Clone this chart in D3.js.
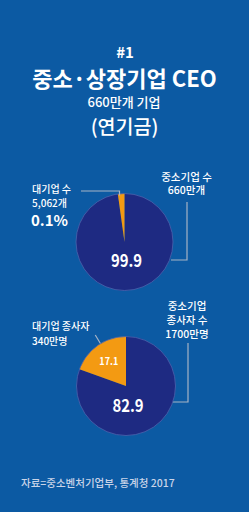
<!DOCTYPE html>
<html>
<head>
<meta charset="utf-8">
<script src="https://cdn.jsdelivr.net/npm/d3@7"></script>
<style>
  html, body { margin: 0; padding: 0; background: #0c5aa3; }
  svg { display: block; }
  text { font-family: "Noto Sans CJK KR", "Noto Sans", sans-serif; fill: #fff; }
</style>
</head>
<body>
<svg id="chart"></svg>
<script>
// title lines
var titleLines = ["#1", "중소·상장기업 CEO", "660만개 기업", "(연기금)"];

// chart 1: number of firms (large / SME)
var firmNames = ["대기업", "중소기업"];
var firmShare = [0.1, 99.9];
// the infographic draws the 0.1% sliver much wider than it really is
var firmDrawn = [2.2, 97.8];
var firmLeftLabel = ["대기업 수", "5,062개", "0.1%"];
var firmRightLabel = ["중소기업 수", "660만개"];

// chart 2: employees (large / SME)
var workerNames = ["대기업", "중소기업"];
var workerShare = [17.1, 82.9];
var workerDrawn = [19.5, 80.5];
var workerLeftLabel = ["대기업 종사자", "340만명"];
var workerRightLabel = ["중소기업", "종사자 수", "1700만명"];

var source = "자료=중소벤처기업부, 통계청 2017";

var width = 249, height = 512;
var navy = "#1e2a82", orange = "#f39a12", lineCol = "#a6b3c6";

var svg = d3.select("#chart")
    .attr("width", width)
    .attr("height", height);

svg.append("rect")
    .attr("width", width)
    .attr("height", height)
    .attr("fill", "#0c5aa3");

// title block
var title = svg.append("g").attr("text-anchor", "middle");
title.append("text").attr("x", 125).attr("y", 58)
    .attr("font-size", 15).attr("font-weight", 700).text(titleLines[0]);
title.append("text").attr("x", 124.5).attr("y", 87)
    .attr("font-size", 22).attr("font-weight", 700).text(titleLines[1]);
title.append("text").attr("x", 124).attr("y", 106.5)
    .attr("font-size", 13).attr("font-weight", 500).text(titleLines[2]);
title.append("text").attr("x", 124.5).attr("y", 133.5)
    .attr("font-size", 19.5).attr("font-weight", 500).text(titleLines[3]);

var pie = d3.pie().sort(null);   // small slice last -> sits just left of 12 o'clock

function drawPie(cx, cy, r, drawn, shares) {
    // reorder so the big (navy) slice starts at 12 o'clock clockwise
    var vals = [drawn[1], drawn[0]];
    var arcs = pie(vals);
    var arc = d3.arc().innerRadius(0).outerRadius(r);
    var g = svg.append("g").attr("transform", "translate(" + cx + "," + cy + ")");

    g.selectAll("path")
        .data(arcs)
        .enter()
        .append("path")
        .attr("d", arc)
        .attr("fill", function(d, i) { return i == 0 ? navy : orange; });

    g.append("circle")
        .attr("r", r)
        .attr("fill", "none")
        .attr("stroke", "#4b63ad")
        .attr("stroke-width", 0.8);

    // big value at the bottom of the pie
    var big = d3.arc().innerRadius(r * 0.4).outerRadius(r * 0.4)
        .centroid({startAngle: Math.PI, endAngle: Math.PI});
    g.append("text")
        .attr("transform", "translate(" + (big[0] + 2) + "," + (big[1] + 6) + ") scale(0.85,1)")
        .attr("text-anchor", "middle")
        .attr("font-family", "Roboto")
        .attr("font-size", 17.5)
        .attr("font-weight", 700)
        .text(shares[1]);

    return {g: g, arcs: arcs, r: r};
}

// ---- chart 1
var p1 = drawPie(124.5, 242, 48.5, firmDrawn, firmShare);

var leaders = svg.append("g")
    .attr("fill", "none")
    .attr("stroke", lineCol)
    .attr("stroke-width", 1.2);

leaders.append("path").attr("d", d3.line()([[81, 191], [119.5, 191], [119.5, 195.5]]));
leaders.append("path").attr("d", d3.line()([[187, 202], [187, 260], [171, 260]]));

var l1 = svg.append("g");
l1.append("text").attr("x", 32).attr("y", 193).attr("font-size", 10).attr("font-weight", 500).text(firmLeftLabel[0]);
l1.append("text").attr("x", 32).attr("y", 206.5).attr("font-size", 10).attr("font-weight", 500).text(firmLeftLabel[1]);
l1.append("text").attr("x", 31).attr("y", 225.5).attr("font-size", 15).attr("font-weight", 700).text(firmLeftLabel[2]);

var r1 = svg.append("g").attr("text-anchor", "middle");
r1.selectAll("text").data(firmRightLabel).enter().append("text")
    .attr("x", 186.5)
    .attr("y", function(d, i) { return 180.5 + i * 13.5; })
    .attr("font-size", 10.5)
    .attr("font-weight", 500)
    .text(function(d) { return d; });

// ---- chart 2
var p2 = drawPie(126, 386, 49.5, workerDrawn, workerShare);

// small slice value at its centroid
var small = p2.arcs[1];
var sc = d3.arc().innerRadius(0).outerRadius(p2.r).centroid(small);
p2.g.append("text")
    .attr("transform", "translate(" + (sc[0] - 3) + "," + (sc[1] - 1) + ") scale(0.9,1)")
    .attr("text-anchor", "middle")
    .attr("font-family", "Roboto")
    .attr("font-size", 10)
    .attr("font-weight", 700)
    .text(workerShare[0]);

// radial leader from the orange slice
var mid = (small.startAngle + small.endAngle) / 2 + 0.07;
var inner = [126 + Math.sin(mid) * (p2.r - 0.5), 386 - Math.cos(mid) * (p2.r - 0.5)];
var outer = [126 + Math.sin(mid) * (p2.r + 10), 386 - Math.cos(mid) * (p2.r + 10)];
leaders.append("path").attr("d", d3.line()([outer, inner]));
leaders.append("path").attr("d", d3.line()([[188, 343], [188, 402], [173, 402]]));

var l2 = svg.append("g");
l2.selectAll("text").data(workerLeftLabel).enter().append("text")
    .attr("x", 32)
    .attr("y", function(d, i) { return 330 + i * 15; })
    .attr("font-size", 10)
    .attr("font-weight", 500)
    .text(function(d) { return d; });

var r2 = svg.append("g").attr("text-anchor", "middle");
r2.selectAll("text").data(workerRightLabel).enter().append("text")
    .attr("x", 187)
    .attr("y", function(d, i) { return 310 + i * 14.2; })
    .attr("font-size", 10.5)
    .attr("font-weight", 500)
    .text(function(d) { return d; });

// source
svg.append("text")
    .attr("x", 21)
    .attr("y", 487)
    .attr("font-size", 10.5)
    .attr("font-weight", 500)
    .style("fill", "#c9d4e8")
    .text(source);
</script>
</body>
</html>
